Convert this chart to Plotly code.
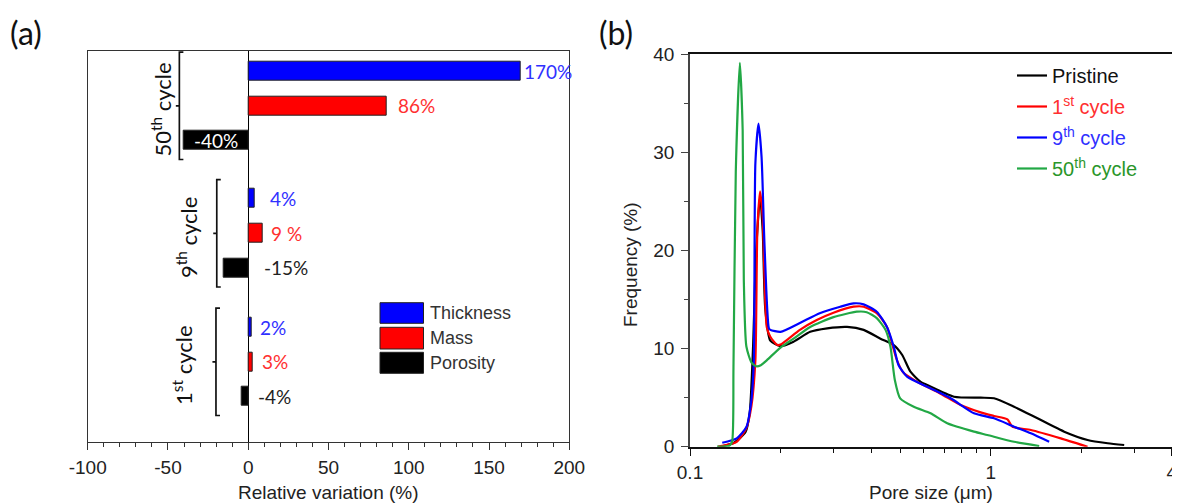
import math
import plotly.graph_objects as go

# ---------------- Panel (a): relative variation ----------------
cycle_labels = ["1<sup>st</sup> cycle", "9<sup>th</sup> cycle", "50<sup>th</sup> cycle"]
group_pos = [2.35, 6.13, 9.88]          # category slot of each cycle group
thickness = [2, 4, 170]
mass = [3, 9, 86]
porosity = [-4, -15, -40]
thickness_lbl = ["2%", "4%", "170%"]
mass_lbl = ["3%", "9 %", "86%"]
porosity_lbl = ["-4%", "-15%", "-40%"]
a_tickvals = [-100, -50, 0, 50, 100, 150, 200]
a_ticktext = ["-100", "-50", "0", "50", "100", "150", "200"]

# ---------------- Panel (b): pore size distribution ----------------
pristine_x = [0.126, 0.14, 0.153, 0.158, 0.162, 0.166, 0.171, 0.1745, 0.178, 0.185, 0.2, 0.221,
              0.251, 0.286, 0.333, 0.378, 0.43, 0.476, 0.508, 0.541, 0.585, 0.615, 0.755, 0.926,
              1.026, 1.196, 1.431, 1.756, 2.1, 2.45, 2.78]
pristine_y = [0, 0.4, 1.5, 3.5, 10, 20, 25.5, 22, 14, 10.8, 10.25, 10.7,
              11.7, 12.05, 12.2, 11.9, 11.0, 10.35, 9.34, 7.64, 6.6, 6.28, 5.09, 4.99,
              4.93, 4.07, 2.89, 1.53, 0.68, 0.35, 0.17]

c1_x = [0.124, 0.143, 0.154, 0.16, 0.165, 0.1675, 0.171, 0.1745, 0.18, 0.185, 0.195, 0.2,
        0.232, 0.264, 0.3, 0.35, 0.378, 0.418, 0.452, 0.47, 0.488, 0.514, 0.57, 0.681,
        0.794, 0.926, 1.026, 1.137, 1.18, 1.36, 1.71, 2.1]
c1_y = [0, 0.5, 1.9, 4.1, 8.8, 22, 26, 23.4, 12.2, 11.2, 10.36, 10.4,
        11.9, 12.9, 13.65, 14.26, 14.26, 13.6, 12.2, 10.5, 8.8, 7.5, 6.6, 5.4,
        4.25, 3.5, 3.13, 2.79, 2.04, 1.7, 0.85, 0]

c9_x = [0.128, 0.143, 0.154, 0.16, 0.163, 0.165, 0.169, 0.173, 0.177, 0.183, 0.185, 0.2,
        0.232, 0.27, 0.316, 0.35, 0.378, 0.418, 0.452, 0.476, 0.494, 0.527, 0.615, 0.736,
        0.88, 1.026, 1.196, 1.36, 1.565]
c9_y = [0.4, 0.85, 2.0, 4.75, 8.8, 28.9, 32.9, 29.5, 20.4, 12.05, 11.9, 11.7,
        12.6, 13.6, 14.26, 14.6, 14.5, 13.75, 12.2, 10.2, 8.3, 7.13, 6.1, 4.93,
        3.4, 2.89, 2.04, 1.36, 0.5]

c50_x = [0.123, 0.135, 0.138, 0.1395, 0.142, 0.1465, 0.1497, 0.151, 0.154, 0.16, 0.166, 0.172,
         0.18, 0.2, 0.221, 0.251, 0.3, 0.359, 0.387, 0.418, 0.447, 0.464, 0.48, 0.5,
         0.555, 0.631, 0.717, 0.88, 0.975, 1.196, 1.45]
c50_y = [0, 0.1, 0.5, 8, 28, 39.1, 32.2, 17, 10.2, 8.6, 8.2, 8.3,
         8.8, 10.1, 11.0, 12.2, 13.2, 13.75, 13.7, 13.1, 11.9, 10.2, 6.8, 4.93,
         4.07, 3.4, 2.38, 1.53, 1.19, 0.5, 0.07]

series_names = ["Pristine", "1<sup>st</sup> cycle", "9<sup>th</sup> cycle", "50<sup>th</sup> cycle"]
b_tickvals = [0.1, 1, 4]
b_ticktext = ["0.1", "1", "4"]
b_minorvals = [0.2, 0.3, 0.4, 0.5, 0.6, 0.7, 0.8, 0.9, 2, 3]

# ---------------- styles ----------------
PAGE_MARGIN = 8                      # default body margin of the html page
W, H = 1180 - PAGE_MARGIN, 503 - PAGE_MARGIN
def fx(px):
    return (px - PAGE_MARGIN) / W
def fy(py):
    return 1 - (py - PAGE_MARGIN) / H

ARIAL = "Liberation Sans, Arial, sans-serif"
CALI = "Lato, Carlito, sans-serif"
BLUE, RED, BLACK = "#0000ff", "#ff0000", "#000000"
BLUE_T, RED_T, BLACK_T = "#3030ff", "#ff3030", "#222222"
GREEN, GREEN_T = "#22a845", "#2a962a"
bar_offset = 1.02
bar_width = 0.56
label_dx = {"t": [7, 13, 1], "m": [7, 6, 10], "p": [8, 14, 0]}
bracket_x = [-20.1, -19.6, -42.9]
bracket_half = 1.58
cyc_text_x = [-40.6, -38.3, -53.9]

fig = go.Figure()

bar_sets = [
    ("Thickness", thickness, thickness_lbl, +bar_offset, BLUE, BLUE_T, "t"),
    ("Mass", mass, mass_lbl, 0.0, RED, RED_T, "m"),
    ("Porosity", porosity, porosity_lbl, -bar_offset, BLACK, BLACK_T, "p"),
]
annotations = []
shapes = []
for name, vals, lbls, off, col, tcol, key in bar_sets:
    ys = [p + off for p in group_pos]
    fig.add_trace(go.Bar(
        x=vals, y=ys, orientation="h", width=bar_width, name=name,
        marker=dict(color=col, line=dict(color="#222222", width=1)),
        xaxis="x", yaxis="y", showlegend=False, hoverinfo="x+name"))
    for i, (v, t, yv) in enumerate(zip(vals, lbls, ys)):
        if v < -30:
            annotations.append(dict(x=v / 2, y=yv, xref="x", yref="y", text=t, showarrow=False,
                                    xanchor="center", yanchor="middle",
                                    font=dict(family=CALI, size=19, color="#ffffff")))
        else:
            annotations.append(dict(x=max(v, 0), y=yv, xref="x", yref="y", text=t, showarrow=False,
                                    xanchor="left", yanchor="middle", xshift=label_dx[key][i],
                                    font=dict(family=CALI, size=19, color=tcol)))

# cycle brackets and labels
for i, (lab, p) in enumerate(zip(cycle_labels, group_pos)):
    xb = bracket_x[i]
    yt, yb = p + bracket_half, p - bracket_half
    shapes.append(dict(type="path", xref="x", yref="y",
                       path=f"M {xb+2.5},{yt} L {xb},{yt} L {xb},{yb} L {xb+2.5},{yb} M {xb},{p} L {xb-2.2},{p}",
                       line=dict(color="#111111", width=1.7)))
    annotations.append(dict(x=cyc_text_x[i], y=p - 0.12, xref="x", yref="y", text=lab, textangle=-90,
                            showarrow=False, xanchor="center", yanchor="middle",
                            font=dict(family=CALI, size=22, color="#111111")))

# manual legend for panel (a)
leg_a = [("Thickness", BLUE, 302.7, 323.3), ("Mass", RED, 327.3, 349), ("Porosity", BLACK, 352.3, 373.3)]
for name, col, t, b in leg_a:
    shapes.append(dict(type="rect", xref="paper", yref="paper", x0=fx(380), x1=fx(423.5),
                       y0=fy(b), y1=fy(t), fillcolor=col, line=dict(color="#222222", width=1)))
    annotations.append(dict(x=fx(428), y=fy((t + b) / 2), xref="paper", yref="paper", text=name,
                            showarrow=False, xanchor="left", yanchor="middle",
                            font=dict(family=ARIAL, size=18, color="#333333")))

# ---------------- panel (b) curves ----------------
curves = [(pristine_x, pristine_y, BLACK, "#111111"),
          (c1_x, c1_y, RED, RED_T),
          (c9_x, c9_y, BLUE, BLUE_T),
          (c50_x, c50_y, GREEN, GREEN_T)]
for k, (xs, ys, col, tcol) in enumerate(curves):
    fig.add_trace(go.Scatter(
        x=xs, y=ys, mode="lines", xaxis="x2", yaxis="y2",
        line=dict(color=col, width=2.2, shape="spline", smoothing=0.6),
        name=f'<span style="color:{tcol}">{series_names[k]}</span>',
        legendgroup=f"g{k}", showlegend=True))

# panel labels and axis titles
annotations += [
    dict(x=fx(8), y=fy(33), xref="paper", yref="paper", text="(a)", showarrow=False,
         xanchor="left", yanchor="middle", font=dict(family=CALI, size=32, color="#111111")),
    dict(x=fx(597), y=fy(33), xref="paper", yref="paper", text="(b)", showarrow=False,
         xanchor="left", yanchor="middle", font=dict(family=CALI, size=32, color="#111111")),
    dict(x=fx(328.5), y=fy(492), xref="paper", yref="paper", text="Relative variation (%)",
         showarrow=False, xanchor="center", yanchor="middle",
         font=dict(family=ARIAL, size=19, color="#222222")),
    dict(x=fx(931), y=fy(492), xref="paper", yref="paper", text="Pore size (μm)",
         showarrow=False, xanchor="center", yanchor="middle",
         font=dict(family=ARIAL, size=19, color="#222222")),
    dict(x=fx(630), y=fy(265), xref="paper", yref="paper", text="Frequency (%)", textangle=-90,
         showarrow=False, xanchor="center", yanchor="middle",
         font=dict(family=ARIAL, size=19, color="#222222")),
]

tickfont = dict(family=ARIAL, size=19, color="#222222")
fig.update_layout(
    width=W, height=H, margin=dict(l=0, r=0, t=0, b=0, autoexpand=False),
    paper_bgcolor="white", plot_bgcolor="white",
    barmode="overlay", bargap=0,
    xaxis=dict(domain=[fx(87.7), fx(569.3)], range=[-100, 200], anchor="y", automargin=False,
               tickmode="array", tickvals=a_tickvals, ticktext=a_ticktext,
               ticks="outside", ticklen=7, tickwidth=1.2, tickcolor="#333333",
               minor=dict(dtick=10, ticklen=4, ticks="outside", tickcolor="#333333", tickwidth=1),
               showline=True, mirror=True, linecolor="#333333", linewidth=1.4,
               zeroline=True, zerolinecolor="#000000", zerolinewidth=1,
               showgrid=False, tickfont=tickfont, ticklabelstandoff=1),
    yaxis=dict(domain=[fy(441.7), fy(50.7)], range=[0, 11.5], anchor="x", automargin=False,
               showticklabels=False, ticks="", showline=True, mirror=True,
               linecolor="#333333", linewidth=1.4, showgrid=False, zeroline=False),
    xaxis2=dict(domain=[fx(690), fx(1171.7)], type="log", range=[-1, math.log10(4)], anchor="y2",
                automargin=False,
                tickmode="array", tickvals=b_tickvals, ticktext=b_ticktext,
                ticks="outside", ticklen=7, tickwidth=1.4, tickcolor="#111111",
                minor=dict(tickmode="array", tickvals=b_minorvals,
                           ticklen=4, ticks="outside", tickcolor="#111111", tickwidth=1.2),
                showline=True, mirror=True, linecolor="#111111", linewidth=2,
                showgrid=False, zeroline=False, tickfont=tickfont, ticklabelstandoff=0),
    yaxis2=dict(domain=[fy(446.7), fy(54)], range=[0, 40], anchor="x2", automargin=False,
                tickmode="linear", tick0=0, dtick=10, ticks="outside", ticklen=7, tickwidth=1.4,
                tickcolor="#444444",
                minor=dict(dtick=5, ticklen=4, ticks="outside", tickcolor="#444444", tickwidth=1.2),
                showline=True, mirror=True, linecolor="#444444", linewidth=1.6,
                showgrid=False, zeroline=False, tickfont=tickfont, ticklabelstandoff=3),
    legend=dict(x=fx(1012), y=fy(56), xanchor="left", yanchor="top",
                bgcolor="rgba(0,0,0,0)", borderwidth=0, tracegroupgap=2,
                font=dict(family=ARIAL, size=20, color="#111111")),
    annotations=annotations, shapes=shapes,
)

fig.write_html("out.html")
